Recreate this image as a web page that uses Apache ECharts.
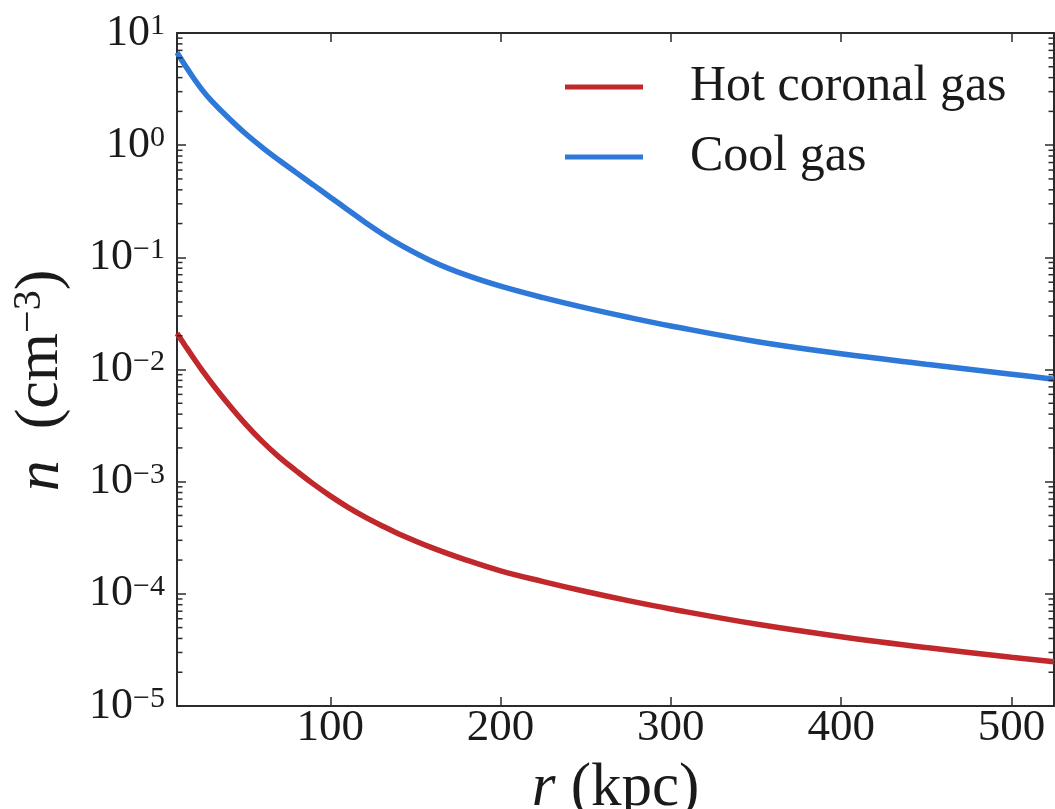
<!DOCTYPE html>
<html>
<head>
<meta charset="utf-8">
<script src="https://cdn.jsdelivr.net/npm/echarts@6/dist/echarts.min.js"></script>
<style>
  html, body { margin: 0; padding: 0; background: #ffffff; }
  #chart { width: 1055px; height: 809px; }
</style>
</head>
<body>
<div id="chart"></div>
<script>
// ---- data ----
const rKpc = [10, 15, 20, 25, 30, 40, 50, 60, 70, 80, 90, 100, 110, 120, 130, 140, 160, 180, 200, 225, 250, 275, 300, 350, 400, 450, 500, 525];
const hotCoronalGas = [0.02099, 0.01614, 0.01248, 0.00974, 0.00769, 0.00495, 0.003295, 0.002286, 0.001656, 0.001250, 0.000955, 0.000747, 0.000597, 0.000488, 0.000407, 0.000344, 0.000257, 0.000200, 0.0001605, 0.0001286, 0.0001049, 0.0000870, 0.0000733, 0.0000538, 0.0000415, 0.0000332, 0.0000272, 0.0000248];
const coolGas = [6.70, 5.07, 3.91, 3.08, 2.51, 1.765, 1.276, 0.957, 0.733, 0.569, 0.4424, 0.3437, 0.2670, 0.2078, 0.1641, 0.1323, 0.0920, 0.0693, 0.0553, 0.0437, 0.0354, 0.0292, 0.02445, 0.01779, 0.01383, 0.01115, 0.00908, 0.00820];
const xTickValues = [100, 200, 300, 400, 500];
const yMajorTicks = [1e-5, 1e-4, 1e-3, 1e-2, 1e-1, 1, 10];
const seriesNames = ['Hot coronal gas', 'Cool gas'];
const X_MIN = 10, X_MAX = 525;

const yMinorTicks = [];
for (let e = -5; e < 1; e++) {
  for (let m = 2; m <= 9; m++) yMinorTicks.push(m * Math.pow(10, e));
}

const SERIF = 'Liberation Serif';
const TEXT = '#1a1a1a';
const AXIS = '#2b2b2b';

function pair(xs, ys) { return xs.map((x, i) => [x, ys[i]]); }

function yLabel(v) {
  const e = Math.round(Math.log10(v));
  const s = e < 0 ? '\u2212' + Math.abs(e) : String(e);
  return '{b|10}{s|' + s + '}';
}

const labelRich = {
  b: { fontFamily: SERIF, fontSize: 44, lineHeight: 44, color: TEXT, verticalAlign: 'bottom', padding: [8, 0, 0, 0] },
  s: { fontFamily: SERIF, fontSize: 30, lineHeight: 30, color: TEXT, verticalAlign: 'top' }
};

const chart = echarts.init(document.getElementById('chart'), null, { renderer: 'canvas' });

const logAxisBase = {
  type: 'log', logBase: 10, min: 1e-5, max: 10,
  splitLine: { show: false }, minorTick: { show: false }, minorSplitLine: { show: false }
};

function minorTickSeries(atX, dir) {
  return {
    type: 'custom', xAxisIndex: 0, yAxisIndex: 0,
    silent: true, clip: false, z: 6,
    encode: { x: 0, y: 1 },
    data: yMinorTicks.map(v => [atX, v]),
    renderItem: function (params, api) {
      const p = api.coord([api.value(0), api.value(1)]);
      return {
        type: 'line',
        shape: { x1: p[0], y1: p[1], x2: p[0] + dir * 5.5, y2: p[1] },
        style: { stroke: AXIS, lineWidth: 1.5 }
      };
    }
  };
}

const option = {
  animation: false,
  backgroundColor: '#ffffff',
  grid: { left: 177, right: 1, top: 33, bottom: 103, containLabel: false, outerBoundsMode: 'none' },
  legend: {
    data: seriesNames,
    orient: 'vertical',
    left: 560, top: 55,
    icon: 'rect',
    itemWidth: 78, itemHeight: 5,
    itemGap: 16,
    textStyle: { fontFamily: SERIF, fontSize: 50, color: TEXT, lineHeight: 54, padding: [0, 0, 0, 42] }
  },
  xAxis: [
    {
      type: 'value', position: 'bottom', min: X_MIN, max: X_MAX,
      axisLine: { show: true, onZero: false, lineStyle: { color: AXIS, width: 2 } },
      axisTick: { show: true, inside: true, length: 9, customValues: xTickValues, lineStyle: { color: AXIS, width: 1.5 } },
      axisLabel: { show: true, customValues: xTickValues, margin: 2, fontFamily: SERIF, fontSize: 45, lineHeight: 40, color: TEXT },
      splitLine: { show: false },
      name: '{i|r} (kpc)',
      nameLocation: 'middle', nameGap: 53,
      nameTextStyle: {
        fontFamily: SERIF, fontSize: 61, color: TEXT, lineHeight: 60,
        rich: { i: { fontFamily: SERIF, fontStyle: 'italic', fontSize: 61, color: TEXT, lineHeight: 60 } }
      }
    },
    {
      type: 'value', position: 'top', min: X_MIN, max: X_MAX,
      axisLine: { show: true, onZero: false, lineStyle: { color: AXIS, width: 2 } },
      axisTick: { show: true, inside: true, length: 9, customValues: xTickValues, lineStyle: { color: AXIS, width: 1.5 } },
      axisLabel: { show: false },
      splitLine: { show: false }
    }
  ],
  yAxis: [
    Object.assign({}, logAxisBase, {
      position: 'left',
      axisLine: { show: true, onZero: false, lineStyle: { color: AXIS, width: 2 } },
      axisTick: { show: true, inside: true, length: 9, customValues: yMajorTicks, lineStyle: { color: AXIS, width: 1.5 } },
      axisLabel: { show: true, customValues: yMajorTicks, margin: 12, formatter: yLabel, rich: labelRich },
      name: '{i|n}  (cm{s|\u22123})',
      nameLocation: 'middle', nameGap: 104, nameRotate: 90,
      nameTextStyle: {
        fontFamily: SERIF, fontSize: 62, color: TEXT, lineHeight: 64, verticalAlign: 'bottom',
        padding: [0, 22, 0, 0],
        rich: {
          i: { fontFamily: SERIF, fontStyle: 'italic', fontSize: 62, color: TEXT, lineHeight: 64, verticalAlign: 'bottom' },
          s: { fontFamily: SERIF, fontSize: 40, color: TEXT, lineHeight: 40, verticalAlign: 'top' }
        }
      }
    }),
    Object.assign({}, logAxisBase, {
      position: 'right',
      axisLine: { show: true, onZero: false, lineStyle: { color: AXIS, width: 2 } },
      axisTick: { show: true, inside: true, length: 9, customValues: yMajorTicks, lineStyle: { color: AXIS, width: 1.5 } },
      axisLabel: { show: false }
    })
  ],
  series: [
    {
      name: seriesNames[0], type: 'line', xAxisIndex: 0, yAxisIndex: 0,
      data: pair(rKpc, hotCoronalGas),
      smooth: 0.4, showSymbol: false, symbol: 'none',
      lineStyle: { color: '#c1282b', width: 5.5 },
      itemStyle: { color: '#c1282b' },
      clip: true, z: 3
    },
    {
      name: seriesNames[1], type: 'line', xAxisIndex: 0, yAxisIndex: 0,
      data: pair(rKpc, coolGas),
      smooth: 0.4, showSymbol: false, symbol: 'none',
      lineStyle: { color: '#2e78d8', width: 5.5 },
      itemStyle: { color: '#2e78d8' },
      clip: true, z: 3
    },
    minorTickSeries(X_MIN, 1),
    minorTickSeries(X_MAX, -1)
  ]
};

chart.setOption(option);
</script>
</body>
</html>
